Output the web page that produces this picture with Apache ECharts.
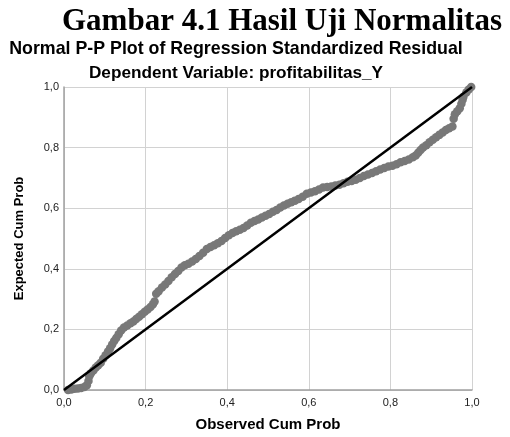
<!DOCTYPE html>
<html>
<head>
<meta charset="UTF-8">
<title>Normal P-P Plot</title>
<script type="text/javascript" src="https://cdn.jsdelivr.net/npm/echarts@6/dist/echarts.min.js"></script>
<style>
  body{margin:0;background:#fff}
</style>
</head>
<body>
<div id="main" style="width:510px;height:437px"></div>
<script type="text/javascript">
// observed cum prob (x) and expected cum prob (y)
var observed = [0.010,0.018,0.026,0.034,0.042,0.050,0.056,0.060,0.062,0.066,0.072,0.078,0.084,0.090,0.096,
  0.102,0.108,0.113,0.118,0.123,0.128,0.134,0.140,0.147,0.155,0.163,0.170,0.177,0.184,0.191,0.198,
  0.205,0.212,0.218,0.222,0.226,0.232,0.240,0.248,0.256,0.264,0.272,0.280,0.288,0.296,0.305,0.314,
  0.323,0.332,0.341,0.350,0.359,0.368,0.377,0.386,0.395,0.404,0.413,0.422,0.431,0.440,0.449,0.458,
  0.467,0.476,0.485,0.494,0.503,0.512,0.521,0.530,0.539,0.548,0.557,0.566,0.575,0.585,0.595,0.605,
  0.615,0.625,0.635,0.645,0.655,0.665,0.675,0.685,0.695,0.705,0.715,0.725,0.735,0.745,0.755,0.765,
  0.775,0.785,0.795,0.805,0.815,0.825,0.835,0.845,0.855,0.862,0.868,0.874,0.880,0.888,0.896,0.904,
  0.912,0.920,0.928,0.936,0.944,0.952,0.955,0.958,0.964,0.970,0.974,0.977,0.979,0.986,0.992,0.998];
var expected = [0.000,0.002,0.004,0.005,0.007,0.010,0.016,0.030,0.045,0.055,0.064,0.074,0.082,0.090,0.103,
  0.115,0.127,0.138,0.150,0.162,0.172,0.184,0.196,0.206,0.213,0.220,0.226,0.234,0.242,0.250,0.258,
  0.266,0.274,0.283,0.292,0.318,0.326,0.338,0.348,0.360,0.372,0.383,0.393,0.404,0.412,0.417,0.424,
  0.432,0.442,0.453,0.465,0.472,0.478,0.484,0.492,0.502,0.511,0.518,0.524,0.529,0.535,0.543,0.552,
  0.558,0.563,0.569,0.575,0.581,0.588,0.594,0.602,0.609,0.615,0.620,0.625,0.630,0.638,0.648,0.652,
  0.656,0.662,0.668,0.670,0.672,0.675,0.677,0.682,0.687,0.690,0.694,0.700,0.706,0.711,0.716,0.722,
  0.728,0.733,0.738,0.740,0.745,0.752,0.756,0.761,0.768,0.774,0.783,0.792,0.800,0.808,0.818,0.826,
  0.834,0.842,0.850,0.858,0.864,0.870,0.895,0.910,0.920,0.930,0.945,0.958,0.968,0.982,0.992,1.000];
// diagonal reference line
var refLine = [[0, 0], [1, 1]];
var tickInterval = 0.2;

var myChart = echarts.init(document.getElementById('main'));

var points = [];
for (var i = 0; i < observed.length; i++) {
  points.push([observed[i], expected[i]]);
}

function fmt(v) {
  return v.toFixed(1).replace('.', ',');
}

var option = {
  backgroundColor: '#fff',
  animation: false,
  title: [
    {
      text: 'Gambar 4.1 Hasil Uji Normalitas',
      left: 282, top: 6, textAlign: 'center', padding: 0,
      textStyle: {fontFamily: 'Liberation Serif', fontWeight: 'bold', fontSize: 31, color: '#000'}
    },
    {
      text: 'Normal P-P Plot of Regression Standardized Residual',
      left: 236, top: 40, textAlign: 'center', padding: 0,
      textStyle: {fontFamily: 'Liberation Sans', fontWeight: 'bold', fontSize: 17.8, color: '#000'}
    },
    {
      text: 'Dependent Variable: profitabilitas_Y',
      left: 236, top: 65, textAlign: 'center', padding: 0,
      textStyle: {fontFamily: 'Liberation Sans', fontWeight: 'bold', fontSize: 17.2, color: '#000'}
    }
  ],
  grid: {left: 64, right: 38, top: 87, bottom: 40, containLabel: false},
  xAxis: {
    type: 'value', min: 0, max: 1, interval: tickInterval,
    name: 'Observed Cum Prob', nameLocation: 'middle', nameGap: 27,
    nameTextStyle: {fontFamily: 'Liberation Sans', fontWeight: 'bold', fontSize: 15, color: '#000'},
    axisLine: {show: true, lineStyle: {color: '#a0a0a0', width: 1.5}},
    axisTick: {show: false},
    axisLabel: {formatter: fmt, margin: 7, fontFamily: 'Liberation Sans', fontSize: 11, color: '#222'},
    splitLine: {show: true, lineStyle: {color: '#d2d2d2', width: 1}}
  },
  yAxis: {
    type: 'value', min: 0, max: 1, interval: tickInterval,
    name: 'Expected Cum Prob', nameLocation: 'middle', nameGap: 38,
    nameTextStyle: {fontFamily: 'Liberation Sans', fontWeight: 'bold', fontSize: 13, color: '#000'},
    axisLine: {show: true, lineStyle: {color: '#a0a0a0', width: 1.5}},
    axisTick: {show: false},
    axisLabel: {formatter: fmt, margin: 5, fontFamily: 'Liberation Sans', fontSize: 11, color: '#222'},
    splitLine: {show: true, lineStyle: {color: '#d2d2d2', width: 1}}
  },
  series: [
    {
      type: 'scatter',
      data: points,
      symbol: 'circle',
      symbolSize: 8.5,
      itemStyle: {color: '#787878', opacity: 1},
      z: 2
    },
    {
      type: 'line',
      data: refLine,
      symbol: 'none',
      lineStyle: {color: '#000', width: 2.5},
      z: 3
    }
  ]
};

myChart.setOption(option);
</script>
</body>
</html>
